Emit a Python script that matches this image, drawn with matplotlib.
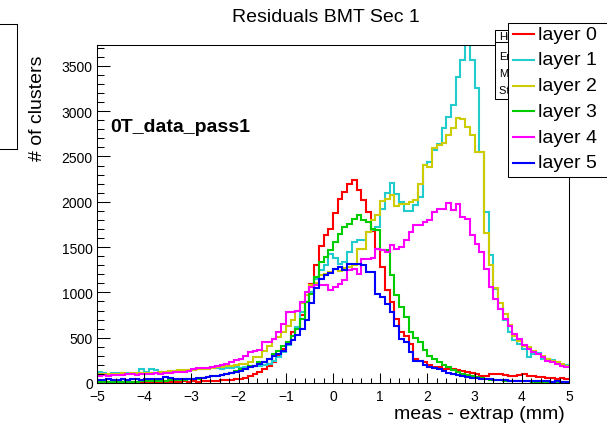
import numpy as np
import matplotlib.pyplot as plt
from matplotlib.lines import Line2D
from matplotlib.patches import Rectangle
from matplotlib.ticker import MultipleLocator

plt.rcParams['font.family'] = ['Liberation Sans', 'DejaVu Sans']

W, H = 607, 431

# 100 bins of 0.1 mm from -5 to 5
edges = np.linspace(-5, 5, 101)

layer0 = [10, 8, 8, 10, 6, 8, 10, 8, 12, 10,
          10, 12, 14, 10, 12, 16, 14, 12, 18, 16,
          18, 16, 20, 22, 20, 24, 28, 32, 36, 40,
          44, 60, 80, 100, 118, 155, 192, 228, 300, 375,
          450, 560, 600, 745, 890, 1095, 1300, 1510, 1630, 1703,
          1880, 2035, 2110, 2200, 2238, 2127, 2017, 1888, 1680, 1482,
          1280, 1021, 892, 708, 560, 523, 431, 265, 247, 228,
          195, 180, 172, 160, 155, 150, 138, 130, 120, 110,
          95, 82, 80, 95, 100, 98, 85, 75, 80, 88,
          95, 80, 75, 70, 62, 58, 55, 48, 52, 45]

layer1 = [125, 110, 100, 115, 110, 105, 115, 110, 115, 150,
          120, 150, 145, 120, 125, 120, 125, 130, 130, 135,
          140, 150, 155, 160, 165, 165, 160, 165, 170, 175,
          170, 175, 180, 185, 190, 200, 215, 247, 290, 340,
          420, 520, 620, 780, 890, 1000, 1150, 1250, 1300, 1420,
          1380, 1310, 1330, 1445, 1555, 1580, 1580, 1666, 1685, 1720,
          1925, 2100, 2210, 2090, 2000, 1900, 1900, 1962, 2050, 2410,
          2440, 2570, 2643, 2810, 2940, 3068, 3382, 3566, 3800, 3566,
          3252, 2551, 1888, 1408, 1040, 818, 700, 560, 480, 430,
          380, 290, 320, 330, 270, 260, 250, 230, 200, 195]

layer2 = [95, 100, 95, 100, 100, 105, 100, 105, 110, 105,
          110, 115, 115, 120, 125, 130, 135, 140, 140, 145,
          147, 150, 155, 160, 165, 173, 180, 185, 192, 200,
          205, 215, 228, 284, 290, 357, 413, 487, 505, 560,
          634, 700, 800, 880, 966, 1076, 1100, 1187, 1200, 1224,
          1261, 1240, 1270, 1280, 1300, 1475, 1480, 1666, 1800, 1851,
          2010, 2035, 2072, 1950, 1980, 1980, 2000, 2017, 2201, 2404,
          2385, 2590, 2627, 2645, 2737, 2810, 2921, 2913, 2829, 2737,
          2553, 2553, 1650, 1300, 1050, 880, 760, 640, 520, 468,
          413, 395, 358, 321, 302, 265, 247, 229, 210, 192]

layer3 = [10, 8, 12, 10, 14, 12, 15, 14, 16, 18,
          18, 20, 22, 25, 26, 28, 30, 32, 35, 40,
          44, 48, 55, 65, 72, 80, 90, 100, 115, 130,
          155, 160, 192, 192, 228, 235, 265, 320, 357, 413,
          450, 520, 597, 708, 892, 984, 1168, 1335, 1390, 1464,
          1560, 1648, 1722, 1759, 1814, 1851, 1795, 1777, 1700, 1685,
          1464, 1464, 1187, 966, 837, 726, 560, 500, 450, 360,
          300, 260, 228, 199, 173, 140, 118, 100, 85, 74,
          62, 52, 42, 35, 30, 28, 25, 24, 22, 20,
          20, 18, 15, 16, 14, 12, 14, 10, 12, 10]

layer4 = [80, 85, 80, 85, 90, 90, 95, 95, 90, 95,
          100, 100, 105, 100, 110, 115, 118, 120, 125, 135,
          155, 162, 165, 170, 175, 185, 199, 210, 229, 250,
          265, 302, 339, 357, 360, 450, 455, 487, 560, 652,
          782, 785, 800, 892, 1003, 1058, 1077, 1084, 1084, 1021,
          1060, 1095, 1132, 1243, 1261, 1205, 1371, 1371, 1375, 1482,
          1464, 1445, 1519, 1482, 1500, 1574, 1666, 1740, 1740, 1777,
          1795, 1888, 1925, 1925, 1990, 1906, 1980, 1832, 1814, 1630,
          1537, 1445, 1261, 1058, 929, 819, 708, 634, 542, 487,
          420, 376, 339, 321, 284, 247, 229, 210, 192, 181]

layer5 = [35, 30, 40, 35, 38, 40, 38, 42, 40, 38,
          40, 42, 40, 45, 62, 60, 45, 44, 46, 45,
          48, 50, 55, 62, 74, 80, 92, 100, 110, 118,
          130, 160, 173, 190, 215, 228, 265, 302, 320, 350,
          430, 480, 530, 600, 700, 880, 1050, 1150, 1187, 1210,
          1261, 1280, 1243, 1316, 1316, 1316, 1300, 1224, 1224, 984,
          947, 874, 782, 634, 487, 450, 339, 247, 240, 200,
          180, 165, 150, 130, 115, 95, 85, 75, 70, 60,
          52, 48, 44, 40, 30, 28, 30, 26, 25, 25,
          22, 20, 22, 20, 18, 20, 16, 18, 15, 14]

series = [layer0, layer1, layer2, layer3, layer4, layer5]
names = ["layer 0", "layer 1", "layer 2", "layer 3", "layer 4", "layer 5"]
colors = ["#ff0000", "#22cccc", "#cccc00", "#00cc00", "#ff00ff", "#0000ff"]


def fx(x):
    return x / W


def fy(y):
    return 1 - y / H


fig = plt.figure(figsize=(W / 100, H / 100), dpi=100)
ax = fig.add_axes([fx(97), fy(384), (569 - 97) / W, (384 - 46) / H])

for vals, c in zip(series, colors):
    ax.stairs(vals, edges, color=c, linewidth=1.5, baseline=None)

ax.set_xlim(-5, 5)
ax.set_ylim(0, 3730)
ax.xaxis.set_major_locator(MultipleLocator(1))
ax.xaxis.set_minor_locator(MultipleLocator(0.2))
ax.yaxis.set_major_locator(MultipleLocator(500))
ax.yaxis.set_minor_locator(MultipleLocator(100))
ax.tick_params(axis='x', which='major', direction='in', length=7, width=0.75,
               labelsize=10, pad=4.5)
ax.tick_params(axis='x', which='minor', direction='in', length=3.5, width=0.75)
ax.tick_params(axis='y', which='major', direction='in', length=9.5, width=0.75,
               labelsize=10, pad=3)
ax.tick_params(axis='y', which='minor', direction='in', length=4.7, width=0.75)
for s in ax.spines.values():
    s.set_linewidth(0.75)

# titles and labels
fig.text(fx(326), fy(18), "Residuals BMT Sec 1", ha='center', va='center', fontsize=14)
fig.text(fx(37), fy(108), "# of clusters", rotation=90, ha='center', va='center', fontsize=14)
fig.text(fx(565), fy(415), "meas - extrap (mm)", ha='right', va='center', fontsize=14)
fig.text(fx(110), fy(128), "0T_data_pass1", ha='left', va='center', fontsize=14,
         fontweight='bold')

# partial box at the left edge
for xs, ys in [([0, 17], [25, 25]), ([17, 17], [25, 150]), ([0, 17], [150, 150])]:
    fig.add_artist(Line2D([fx(v) for v in xs], [fy(v) for v in ys],
                          transform=fig.transFigure, color='black', lw=0.75))

# stats box (mostly hidden behind the legend)
fig.add_artist(Rectangle((fx(495), fy(100)), fx(640) - fx(495), (100 - 31) / H,
                         transform=fig.transFigure, facecolor='white',
                         edgecolor='black', lw=0.75, zorder=2))
fig.add_artist(Line2D([fx(495), fx(607)], [fy(43), fy(43)], transform=fig.transFigure,
                      color='black', lw=0.75, zorder=2))
for txt, yy in [("Hres", 37), ("Entries", 57), ("Mean", 74), ("Std Dev", 91)]:
    t = fig.text(fx(499), fy(yy), txt, ha='left', va='center', fontsize=8)
    t.set_zorder(2.5)

# legend
fig.add_artist(Rectangle((fx(508), fy(178)), fx(640) - fx(508), (178 - 24) / H,
                         transform=fig.transFigure, facecolor='white',
                         edgecolor='black', lw=0.75, zorder=3))
for k, (name, c) in enumerate(zip(names, colors)):
    yy = 35 + k * 25.8
    fig.add_artist(Line2D([fx(513), fx(534)], [fy(yy), fy(yy)], transform=fig.transFigure,
                          color=c, lw=1.5, zorder=4))
    t = fig.text(fx(538), fy(yy), name, ha='left', va='center', fontsize=14)
    t.set_zorder(4)

fig.savefig("out.png", dpi=100)
